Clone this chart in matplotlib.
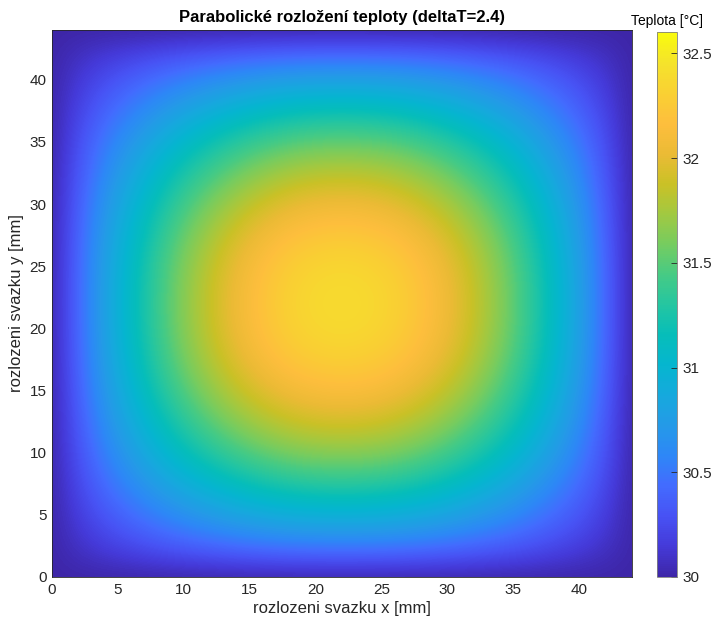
import numpy as np
import matplotlib.pyplot as plt
from matplotlib.colors import LinearSegmentedColormap

plt.rcParams['font.family'] = ['Liberation Sans', 'DejaVu Sans']

# matlab parula (sampled)
parula_pts = [
    (0.2422, 0.1504, 0.6603), (0.2691, 0.2281, 0.8512), (0.2810, 0.3228, 0.9579),
    (0.2621, 0.4212, 0.9974), (0.1786, 0.5289, 0.9682), (0.1419, 0.6041, 0.9079),
    (0.0843, 0.6638, 0.8659), (0.0205, 0.7121, 0.8118), (0.0238, 0.7437, 0.7275),
    (0.1429, 0.7750, 0.6312), (0.2750, 0.7946, 0.5184), (0.4616, 0.8007, 0.3758),
    (0.6317, 0.7867, 0.2558), (0.7916, 0.7581, 0.1510), (0.9212, 0.7319, 0.2076),
    (0.9944, 0.7460, 0.2394), (0.9783, 0.8163, 0.1990), (0.9598, 0.8887, 0.1716),
    (0.9763, 0.9831, 0.0538),
]
parula = LinearSegmentedColormap.from_list('parula', parula_pts, N=256)

# souradnice uzlu [mm] a teplota podel stredove cary
x_mm = np.arange(0, 45, 2)
profil = [30.00, 30.42, 30.79, 31.10, 31.39, 31.65, 31.87, 32.06,
          32.21, 32.32, 32.38, 32.40, 32.38, 32.32, 32.21, 32.06,
          31.87, 31.65, 31.39, 31.10, 30.79, 30.42, 30.00]
T0 = 30.0
clim = (30.0, 32.6)

p = np.array(profil) - T0
T = T0 + np.outer(p, p) / p.max()

fig = plt.figure(figsize=(7.12, 6.25), dpi=100)
ax = fig.add_axes([0.073, 0.0768, 0.8146, 0.8752])
h = 1.0
im = ax.imshow(T, origin='lower', cmap=parula, vmin=clim[0], vmax=clim[1],
               extent=[x_mm[0] - h, x_mm[-1] + h, x_mm[0] - h, x_mm[-1] + h],
               interpolation='bicubic', aspect='auto')
ax.set_xlim(0, 44)
ax.set_ylim(0, 44)
ax.set_xticks(np.arange(0, 45, 5))
ax.set_yticks(np.arange(0, 45, 5))
ax.tick_params(length=0, labelsize=11, colors='#262626', pad=4)
for s in ax.spines.values():
    s.set_color('#262626')
    s.set_linewidth(0.6)
ax.set_xlabel('rozlozeni svazku x [mm]', fontsize=12, color='#262626', labelpad=3)
ax.set_ylabel('rozlozeni svazku y [mm]', fontsize=12, color='#262626', labelpad=4)
ax.set_title('Parabolické rozložení teploty (deltaT=2.4)', fontsize=12,
             fontweight='bold', pad=6)

cax = fig.add_axes([0.9228, 0.0768, 0.028, 0.8715])
cb = fig.colorbar(im, cax=cax)
cb.set_ticks([30, 30.5, 31, 31.5, 32, 32.5])
cb.set_ticklabels(['30', '30.5', '31', '31.5', '32', '32.5'])
cax.tick_params(direction='in', length=4, width=0.6, labelsize=11,
                colors='#262626', pad=4)
cb.outline.set_edgecolor('#808080')
cb.outline.set_linewidth(0.6)
cax.set_title('Teplota [°C]', fontsize=10, pad=5)

fig.savefig('out.png', dpi=100)
